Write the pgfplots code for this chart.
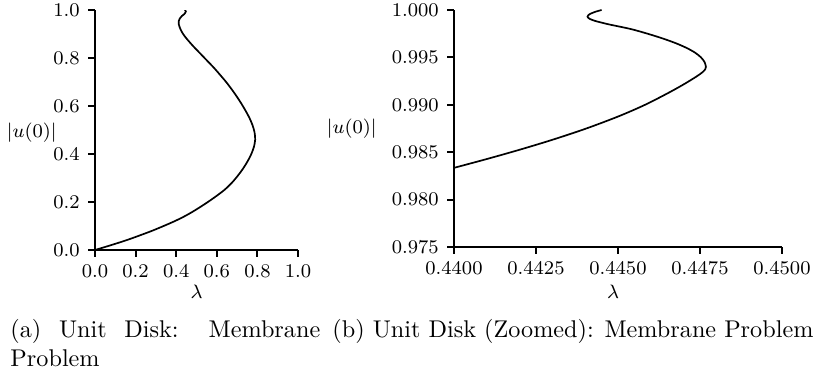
\documentclass[border=0pt]{standalone}
\usepackage{pgfplots}
\pgfplotsset{compat=1.18}
\def\u{0.41322pt}
\pgfplotsset{
  bifaxis/.style={
    scale only axis,
    axis lines=left,
    axis line style={line width=0.8pt,-},
    tick align=outside,
    major tick length=2.8pt,
    every tick/.style={black,line width=0.8pt},
    tick label style={font=\footnotesize},
    scaled ticks=false,
    every axis x label/.style={at={(axis description cs:0.5,0)},anchor=north,inner sep=0pt,font=\footnotesize},
    every axis y label/.style={at={(axis description cs:0,0.5)},anchor=east,inner sep=0pt,font=\footnotesize},
    xlabel={$\lambda$},
    ylabel={$|u(0)|$},
  },
}
\begin{document}
\begin{tikzpicture}
\path[use as bounding box] (0,0) rectangle ({817*\u},{-375*\u});

% (a) full branch
\begin{axis}[bifaxis,
  at={({95*\u},{-250*\u})}, anchor=south west,
  width={203*\u}, height={240*\u},
  xmin=0, xmax=1, ymin=0, ymax=1,
  xtick={0,0.2,...,1.0}, ytick={0,0.2,...,1.0},
  xticklabel style={/pgf/number format/.cd,fixed,fixed zerofill,precision=1},
  yticklabel style={/pgf/number format/.cd,fixed,fixed zerofill,precision=1},
  x label style={yshift={-35*\u}},
  y label style={xshift={-38*\u},yshift={-3*\u}},
]
\addplot[black, line width=0.7pt, smooth] coordinates {
  (0.000,0.00) (0.078,0.02) (0.152,0.04) (0.218,0.06) (0.281,0.08)
  (0.338,0.10) (0.392,0.12) (0.440,0.14) (0.482,0.16) (0.520,0.18)
  (0.556,0.20) (0.590,0.22) (0.637,0.25) (0.674,0.28) (0.704,0.31)
  (0.730,0.34) (0.752,0.37) (0.770,0.40) (0.783,0.43) (0.789,0.46)
  (0.786,0.49) (0.776,0.52) (0.761,0.55) (0.742,0.58) (0.721,0.61)
  (0.698,0.64) (0.673,0.67) (0.646,0.70) (0.616,0.73) (0.585,0.76)
  (0.551,0.79) (0.517,0.82) (0.483,0.85) (0.452,0.88) (0.434,0.90)
  (0.421,0.92) (0.413,0.94) (0.413,0.955) (0.418,0.965) (0.428,0.975)
  (0.440,0.983) (0.4477,0.9938) (0.4441,0.9993) (0.4445,1.000)
};
\end{axis}

% (b) zoom near the top of the branch
\begin{axis}[bifaxis,
  at={({454*\u},{-247*\u})}, anchor=south west,
  width={328*\u}, height={237*\u},
  xmin=0.44, xmax=0.45, ymin=0.975, ymax=1.0,
  xtick={0.44,0.4425,0.445,0.4475,0.45},
  ytick={0.975,0.98,0.985,0.99,0.995,1.0},
  xticklabel style={/pgf/number format/.cd,fixed,fixed zerofill,precision=4},
  yticklabel style={/pgf/number format/.cd,fixed,fixed zerofill,precision=3},
  x label style={yshift={-38*\u},xshift={-5*\u}},
  y label style={xshift={-77*\u}},
]
\addplot[black, line width=0.7pt, smooth] coordinates {
  (0.44000,0.98335) (0.44100,0.98428) (0.44200,0.98526) (0.44300,0.98631)
  (0.44400,0.98746) (0.44500,0.98876) (0.44580,0.98996) (0.44650,0.99119)
  (0.44700,0.99215) (0.44740,0.99300) (0.44758,0.99345) (0.44766,0.99375)
  (0.44768,0.99400) (0.44764,0.99450) (0.44753,0.99500) (0.44735,0.99550)
  (0.44709,0.99600) (0.44676,0.99650) (0.44636,0.99700) (0.44590,0.99750)
  (0.44538,0.99800) (0.44470,0.99850) (0.44430,0.99885) (0.44413,0.99908)
  (0.44407,0.99930) (0.44413,0.99955) (0.44430,0.99980) (0.44450,1.00000)
};
\end{axis}

% sub-captions
\node[anchor=base west, inner sep=0pt] at ({10*\u},{-337*\u})
  {\parbox[t]{128pt}{(a) Unit Disk: Membrane Problem}};
\node[anchor=base west, inner sep=0pt] at ({332*\u},{-337*\u})
  {(b) Unit Disk (Zoomed): Membrane Problem};
\end{tikzpicture}
\end{document}
